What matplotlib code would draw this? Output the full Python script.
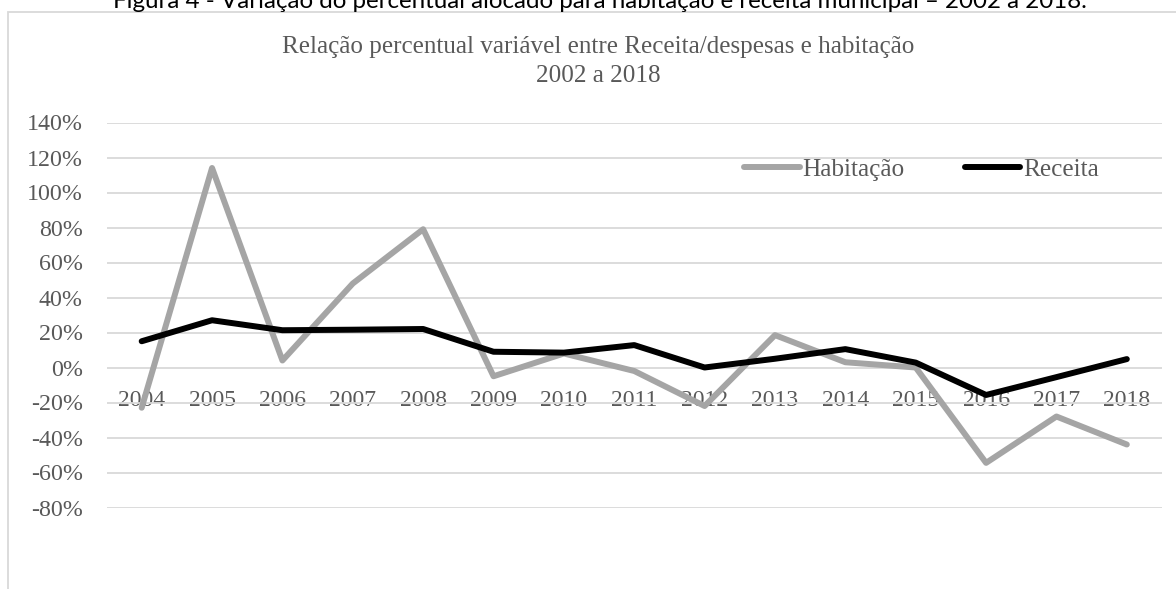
import matplotlib
matplotlib.use("Agg")
import matplotlib.pyplot as plt
from matplotlib.patches import Rectangle
from matplotlib.ticker import FuncFormatter

years = ["2004", "2005", "2006", "2007", "2008", "2009", "2010", "2011",
         "2012", "2013", "2014", "2015", "2016", "2017", "2018"]
habitacao = [-23, 114, 4, 48, 79, -5, 8, -2, -22, 18.5, 3, 0, -54.5, -28, -44]
receita = [15, 27, 21.3, 21.6, 22, 9, 8.5, 12.8, 0, 5, 10.5, 2.8, -15.7, -5.5, 4.8]
yticks = [-80, -60, -40, -20, 0, 20, 40, 60, 80, 100, 120, 140]

caption = "Figura 4 - Variação do percentual alocado para habitação e receita municipal – 2002 a 2018."
title_lines = ["Relação percentual variável entre Receita/despesas e habitação", "2002 a 2018"]

serif = "Liberation Serif"
txt = "#595959"
grid = "#D9D9D9"

fig = plt.figure(figsize=(11.76, 5.89), dpi=100)

# chart border (cut at right/bottom like the screenshot)
fig.patches.append(Rectangle((8.3 / 1176, -0.1), 1.2, 1 - 12.3 / 589 + 0.1,
                             transform=fig.transFigure, fill=False,
                             edgecolor=grid, linewidth=1.3))

# caption, mostly cut off at the top
fig.text(0.5 * (106 + 1093) / 1176, 1 - 8 / 589, caption, ha="center", va="baseline",
         fontsize=17.4, family="Lato", color="black")

# chart title, two lines
fig.text(598 / 1176, 1 - 47 / 589, title_lines[0], ha="center", va="center",
         fontsize=18.1, family=serif, color=txt)
fig.text(598 / 1176, 1 - 76 / 589, title_lines[1], ha="center", va="center",
         fontsize=18.1, family=serif, color=txt)

ax = fig.add_axes([106.5 / 1176, 1 - 507.5 / 589, (1162 - 106.5) / 1176, 385 / 589])
x = list(range(len(years)))
ax.plot(x, habitacao, color="#A5A5A5", linewidth=4.3, solid_capstyle="round",
        solid_joinstyle="round", label="Habitação", zorder=3)
ax.plot(x, receita, color="black", linewidth=4.3, solid_capstyle="round",
        solid_joinstyle="round", label="Receita", zorder=4)

ax.set_xlim(-0.5, len(years) - 0.5)
ax.set_ylim(-80, 140)
ax.set_yticks(yticks)
ax.yaxis.set_major_formatter(FuncFormatter(lambda v, p: f"{v:.0f}%"))
ax.grid(axis="y", color=grid, linewidth=1.3)
ax.set_axisbelow(True)
for s in ax.spines.values():
    s.set_visible(False)
ax.spines["bottom"].set_position(("data", 0))

ax.set_xticks(x)
ax.set_xticklabels(years)
ax.tick_params(axis="x", length=0, pad=16, labelsize=17, labelcolor=txt)
ax.tick_params(axis="y", length=0, pad=17, labelsize=17.3, labelcolor=txt)
for lab in ax.get_xticklabels() + ax.get_yticklabels():
    lab.set_family(serif)

leg = ax.legend(loc="center", bbox_to_anchor=(0.772, 0.877), ncol=2, frameon=False,
                handlelength=2.2, handletextpad=0.1, columnspacing=2.4,
                prop={"family": serif, "size": 18.2})
for t in leg.get_texts():
    t.set_color(txt)

fig.savefig("out.png", dpi=100)
